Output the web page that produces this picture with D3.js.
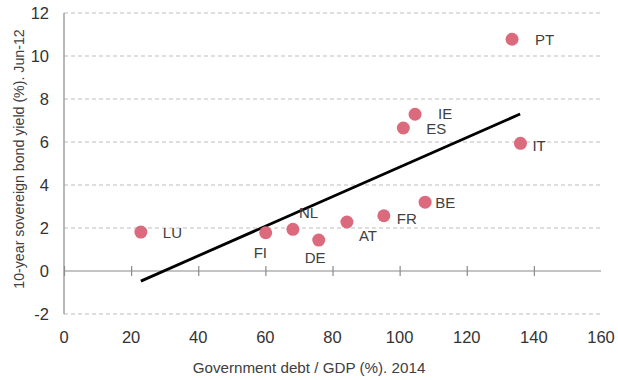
<!DOCTYPE html>
<html>
<head>
<meta charset="utf-8">
<script src="https://cdn.jsdelivr.net/npm/d3@7"></script>
<style>
  html, body { margin: 0; padding: 0; background: #fff; }
  svg text { font-family: "Liberation Sans", Arial, sans-serif; }
</style>
</head>
<body>
<svg id="chart" width="618" height="380"></svg>
<script>
// ---- data ----
const countries = ["LU", "FI", "NL", "DE", "AT", "FR", "BE", "IE", "ES", "PT", "IT"];
const debtGDP   = [22.9, 60.1, 68.2, 75.9, 84.3, 95.3, 107.6, 104.6, 101.1, 133.5, 136.0];
const bondYield = [1.81, 1.78, 1.94, 1.44, 2.28, 2.57, 3.20, 7.29, 6.65, 10.78, 5.94];
const trendX = [22.9, 135.9];
const trendY = [-0.47, 7.30];
const xTicks = [0, 20, 40, 60, 80, 100, 120, 140, 160];
const yTicks = [-2, 0, 2, 4, 6, 8, 10, 12];
const xTitle = "Government debt / GDP (%). 2014";
const yTitle = "10-year sovereign bond yield (%). Jun-12";

// label placement (layout, kept separate from data)
const labelOffsets = {
  LU: [22, 6], FI: [-12, 25], NL: [6, -11], DE: [-14, 23], AT: [12, 19],
  FR: [13, 8], BE: [10, 6], IE: [23, 5], ES: [23, 6], PT: [23, 6], IT: [12, 8]
};

// ---- chart ----
const svg = d3.select("#chart");
const x = d3.scaleLinear().domain([0, 160]).range([64, 601]);
const y = d3.scaleLinear().domain([-2, 12]).range([314, 13]);

const gridColor = "#bdbdbd";
const axisColor = "#8a8a8a";

// dashed gridlines
svg.append("g").selectAll("line")
  .data(yTicks.filter(d => d !== 0))
  .join("line")
  .attr("x1", x(0)).attr("x2", x(160))
  .attr("y1", d => y(d)).attr("y2", d => y(d))
  .attr("stroke", gridColor).attr("stroke-width", 1)
  .attr("stroke-dasharray", "4,3");

// y axis line
svg.append("line")
  .attr("x1", x(0)).attr("x2", x(0))
  .attr("y1", y(12)).attr("y2", y(-2))
  .attr("stroke", axisColor).attr("stroke-width", 1.2);

// x axis at zero with ticks crossing
const xAxis = d3.axisBottom(x).tickValues(xTicks.filter(d => d < 160)).tickSize(10).tickFormat("");
const xg = svg.append("g").attr("transform", `translate(0,${y(0) - 5})`).call(xAxis);
xg.select(".domain").remove();
xg.selectAll(".tick line").attr("stroke", axisColor).attr("stroke-width", 1.2);
svg.append("line")
  .attr("x1", x(0)).attr("x2", x(160))
  .attr("y1", y(0)).attr("y2", y(0))
  .attr("stroke", axisColor).attr("stroke-width", 1.2);

// x tick labels
svg.append("g").selectAll("text")
  .data(xTicks).join("text")
  .attr("x", d => x(d)).attr("y", 343)
  .attr("text-anchor", "middle")
  .attr("font-size", 16.5).attr("fill", "#333")
  .text(d => d);

// y tick labels
svg.append("g").selectAll("text")
  .data(yTicks).join("text")
  .attr("x", 49).attr("y", d => y(d))
  .attr("dy", "0.35em")
  .attr("text-anchor", "end")
  .attr("font-size", 16.5).attr("fill", "#333")
  .text(d => d);

// trend line
const line = d3.line().x(d => x(d[0])).y(d => y(d[1]));
svg.append("path")
  .datum(d3.zip(trendX, trendY))
  .attr("d", line)
  .attr("fill", "none")
  .attr("stroke", "#000")
  .attr("stroke-width", 2.8);

// points
const pts = countries.map((c, i) => ({ c, xv: debtGDP[i], yv: bondYield[i] }));
svg.append("g").selectAll("circle")
  .data(pts).join("circle")
  .attr("cx", d => x(d.xv)).attr("cy", d => y(d.yv))
  .attr("r", 6.5)
  .attr("fill", "#dc6a7d");

// point labels
svg.append("g").selectAll("text")
  .data(pts).join("text")
  .attr("x", d => x(d.xv) + labelOffsets[d.c][0])
  .attr("y", d => y(d.yv) + labelOffsets[d.c][1])
  .attr("font-size", 15).attr("fill", "#404040")
  .text(d => d.c);

// axis titles
svg.append("text")
  .attr("x", 309).attr("y", 373)
  .attr("text-anchor", "middle")
  .attr("font-size", 15.2).attr("fill", "#404040")
  .text(xTitle);

svg.append("text")
  .attr("transform", `translate(24,159) rotate(-90)`)
  .attr("text-anchor", "middle")
  .attr("font-size", 14.2).attr("fill", "#404040")
  .text(yTitle);
</script>
</body>
</html>
